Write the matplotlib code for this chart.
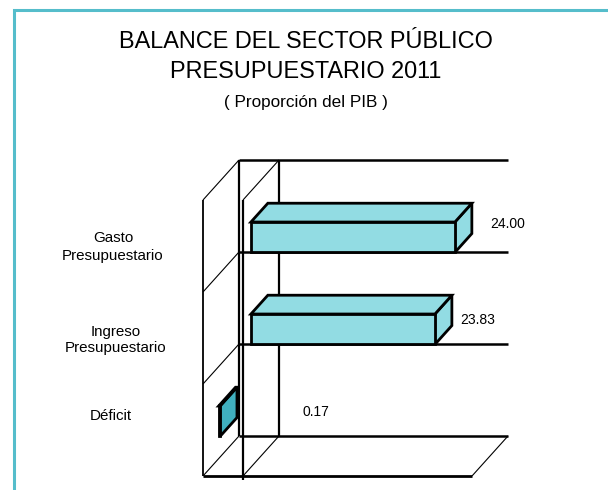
import matplotlib
matplotlib.use("Agg")
import matplotlib.pyplot as plt
from matplotlib.patches import Polygon, Rectangle

plt.rcParams['font.family'] = ['Liberation Sans', 'DejaVu Sans']

# datos del grafico
categorias = ["Gasto\nPresupuestario", "Ingreso\nPresupuestario", "Déficit"]
etiquetas = ["24.00", "23.83", "0.17"]
# longitud de cada barra tal como se ve en la imagen, y su base
largo_barra = [24.0, 21.65, 0.17]
base_barra = [0.0, 0.0, -3.8]
color_barra = ["#92DCE3", "#92DCE3", "#40B0BF"]

# posiciones de las categorias (de arriba hacia abajo)
pos_y = [2, 1, 0]

# geometria de la perspectiva falsa 3D (en unidades de datos)
X0, X1 = -4.706, 26.94
DX, DY = 36 / 8.5, 40 / 92.0   # desplazamiento del fondo
F0, G = 0.22, 0.47            # profundidad de la barra: inicio y grosor
ALTO = 0.33

W, H = 608, 490
fig = plt.figure(figsize=(W / 100, H / 100), dpi=100)
fig.patch.set_facecolor("white")

# marco turquesa (solo se ve arriba y a la izquierda)
fig.add_artist(Rectangle((13.5 / W, -0.2), 2, 1.2 - 10.5 / H,
                         transform=fig.transFigure, fill=False,
                         edgecolor="#55BDCB", lw=2.2))

ax = fig.add_axes([203 / W, 1 - 476 / H, (472 - 203) / W, 276 / H])
ax.set_xlim(X0, X1)
ax.set_ylim(-0.5, 2.5)
ax.axis("off")


def P(x, y, d):
    return (x + d * DX, y + d * DY)


def linea(p, q, lw=1.6, z=1):
    ax.plot([p[0], q[0]], [p[1], q[1]], color="black", lw=lw, zorder=z,
            clip_on=False, solid_capstyle="butt")


bordes = [-0.5, 0.5, 1.5, 2.5]
# pared de fondo y pared lateral
for y in bordes:
    linea(P(X0, y, 1), P(X1, y, 1), lw=1.8)
    linea(P(X0, y, 0), P(X0, y, 1), lw=0.8)
linea(P(X0, -0.5, 0), P(X0, 2.5, 0), lw=1.3)
linea(P(X0, -0.5, 1), P(X0, 2.5, 1), lw=1.6)
# piso
linea(P(X0, -0.5, 0), P(X1, -0.5, 0), lw=2)
linea(P(X1, -0.5, 0), P(X1, -0.5, 1), lw=0.8)
# plano del cero
linea(P(0, -0.545, 0), P(0, 2.5, 0))
linea(P(0, -0.5, 1), P(0, 2.5, 1))
linea(P(0, 2.5, 0), P(0, 2.5, 1), lw=0.8)
linea(P(0, -0.5, 0), P(0, -0.5, 1), lw=0.8)

# barras
for yc, b, L, c in zip(pos_y, base_barra, largo_barra, color_barra):
    yb, yt = yc - ALTO / 2, yc + ALTO / 2
    e = b + L
    frente = [P(b, yb, F0), P(e, yb, F0), P(e, yt, F0), P(b, yt, F0)]
    arriba = [P(b, yt, F0), P(e, yt, F0), P(e, yt, F0 + G), P(b, yt, F0 + G)]
    lado = [P(e, yb, F0), P(e, yt, F0), P(e, yt, F0 + G), P(e, yb, F0 + G)]
    for cara in (lado, arriba, frente):
        ax.add_patch(Polygon(cara, closed=True, facecolor=c, edgecolor="black",
                             lw=2, joinstyle="miter", zorder=3, clip_on=False))

# etiquetas de valores
desp = [(35, 13), (25, 9), (82, 9)]
for yc, b, L, t, (ox, oy) in zip(pos_y, base_barra, largo_barra, etiquetas, desp):
    ax.annotate(t, xy=P(b + L, yc, F0), xytext=(ox, oy), textcoords="offset pixels",
                ha="left", va="center", fontsize=10, annotation_clip=False)

# etiquetas de categorias (posicion en pixeles de la figura)
pos_cat = [(113, 247), (116, 340), (110.5, 416)]
esp_cat = [1.45, 1.1, 1.2]
for t, (xp, yp), ls in zip(categorias, pos_cat, esp_cat):
    fig.text(xp / W, 1 - yp / H, t, ha="center", va="center",
             multialignment="center", fontsize=10.9, linespacing=ls)

# titulos
fig.text(305.5 / W, 1 - 48 / H, "BALANCE DEL SECTOR PÚBLICO",
         ha="center", va="baseline", fontsize=16.9)
fig.text(305.5 / W, 1 - 77.5 / H, "PRESUPUESTARIO 2011",
         ha="center", va="baseline", fontsize=16.9)
fig.text(306 / W, 1 - 107 / H, "( Proporción del PIB )",
         ha="center", va="baseline", fontsize=12.3)

fig.savefig("out.png", dpi=100)
